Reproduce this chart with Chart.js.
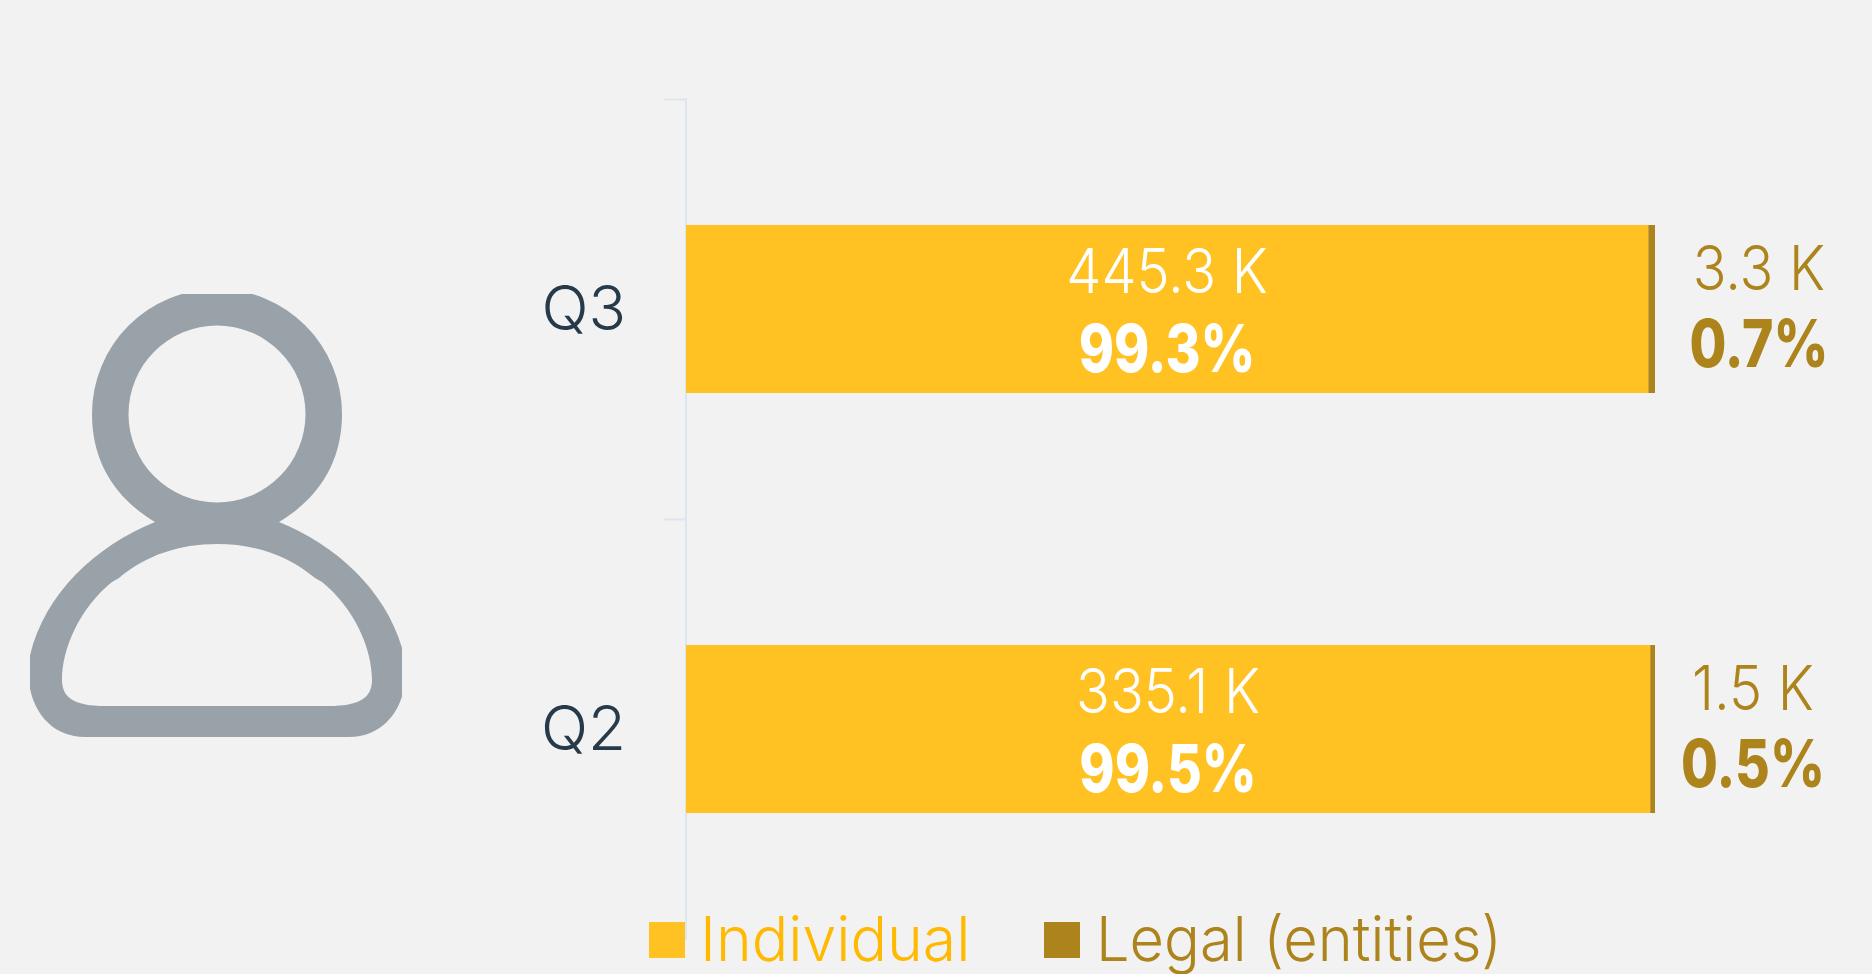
<!DOCTYPE html>
<html><head><meta charset="utf-8">
<style>
html,body{margin:0;padding:0;background:#f2f2f2;width:1872px;height:974px;overflow:hidden}
#wrap{position:relative;width:1872px;height:974px}
canvas{position:absolute;left:0;top:0}
svg{position:absolute;left:0;top:0}
</style>
<script src="https://cdn.jsdelivr.net/npm/chart.js@4"></script>
</head><body>
<div id="wrap">
<svg width="1872" height="974" aria-hidden="true">
<defs><clipPath id="c"><rect x="30" y="294" width="372" height="443"/></clipPath></defs>
<g clip-path="url(#c)" fill="#9aa2a9" fill-rule="evenodd">
<path d="M217 289a125 125 0 0 0-125 125C92 462 115 498 155 522C95 546 42 596 29 660C24 700 45 737 85 737L349 737C389 737 410 700 405 660C392 596 339 546 279 522C319 498 342 462 342 414A125 125 0 0 0 217 289ZM217 325.500A88.500 88.500 0 1 1 217 502.500A88.500 88.500 0 1 1 217 325.500ZM217 544C180 544 146 555 119 578L112 582C80 608 62 648 62 680C62 698 75 706 105 706L329 706C359 706 372 698 372 680C372 648 354 608 322 582L315 578C288 555 254 544 217 544Z"/>
</g>
</svg>
<canvas id="chart" width="1872" height="974"></canvas>
</div>
<script>
const categories = ["Q3", "Q2"];
const seriesNames = ["Individual", "Legal (entities)"];
const individualPct = [99.3, 99.5];
const legalPct = [0.7, 0.5];
const individualCount = ["445.3 K", "335.1 K"];
const legalCount = ["3.3 K", "1.5 K"];

const GOLD = "#ffc222", BROWN = "#ad831c", LEGEND_GOLD = "#ffb900";
const FONT = "Inter";
const legalLabelOffset = [104, 98];

function put(ctx, text, x, y, font, color, sx, align) {
  ctx.save();
  ctx.translate(x, y);
  ctx.scale(sx, 1);
  ctx.font = font; ctx.fillStyle = color;
  ctx.textAlign = align || "center"; ctx.textBaseline = "alphabetic";
  ctx.fillText(text, 0, 0);
  ctx.restore();
}

const labelsPlugin = {
  id: "barLabels",
  afterDatasetsDraw(chart) {
    const ctx = chart.ctx;
    const m0 = chart.getDatasetMeta(0).data, m1 = chart.getDatasetMeta(1).data;
    const light = `300 62px ${FONT}`, heavy = `800 66px ${FONT}`;
    const sc = 0.9, sp = 0.81;
    categories.forEach((c, i) => {
      const a = m0[i], b = m1[i];
      const cx = (a.base + a.x) / 2;
      put(ctx, individualCount[i], cx, a.y - 16, light, "#ffffff", sc);
      put(ctx, individualPct[i].toFixed(1) + "%", cx, a.y + 63, heavy, "#ffffff", sp);
      const lx = b.x + legalLabelOffset[i];
      put(ctx, legalCount[i], lx, b.y - 19, light, BROWN, sc);
      put(ctx, legalPct[i].toFixed(1) + "%", lx, b.y + 58, heavy, BROWN, sp);
    });
  }
};

const legendPlugin = {
  id: "swatchLegend",
  afterDraw(chart) {
    const ctx = chart.ctx;
    const font = `300 62px ${FONT}`;
    const swatchX = [649, 1044], textX = [700, 1096], squeeze = [0.98, 0.96], colors = [LEGEND_GOLD, BROWN];
    seriesNames.forEach((n, i) => {
      ctx.fillStyle = chart.data.datasets[i].backgroundColor;
      ctx.fillRect(swatchX[i], 922, 36, 36);
      put(ctx, n, textX[i], 961, font, colors[i], squeeze[i], "left");
    });
  }
};

new Chart(document.getElementById("chart"), {
  type: "bar",
  data: {
    labels: categories,
    datasets: [
      { label: seriesNames[0], data: individualPct, backgroundColor: GOLD, borderWidth: 0, categoryPercentage: 0.4, barPercentage: 1 },
      { label: seriesNames[1], data: legalPct, backgroundColor: BROWN, borderWidth: 0, categoryPercentage: 0.4, barPercentage: 1 }
    ]
  },
  options: {
    indexAxis: "y",
    responsive: false,
    animation: false,
    layout: { padding: { top: 99, bottom: 35, right: 217, left: 0 } },
    scales: {
      x: { display: false, stacked: true, min: 0, max: 100 },
      y: {
        stacked: true,
        afterFit(s) { s.width = 686; s.paddingTop = 0; s.paddingBottom = 0; },
        border: { color: "#dde6ee", width: 2 },
        grid: { display: true, drawOnChartArea: false, drawTicks: true, tickLength: 22, tickWidth: 2, tickColor: "#dde6ee", offset: true },
        ticks: { color: "#263a4a", padding: 38, labelOffset: 2, font: { family: FONT, size: 62, weight: 300 } }
      }
    },
    plugins: { tooltip: { enabled: false }, legend: { display: false } }
  },
  plugins: [labelsPlugin, legendPlugin]
});
</script>
</body></html>
